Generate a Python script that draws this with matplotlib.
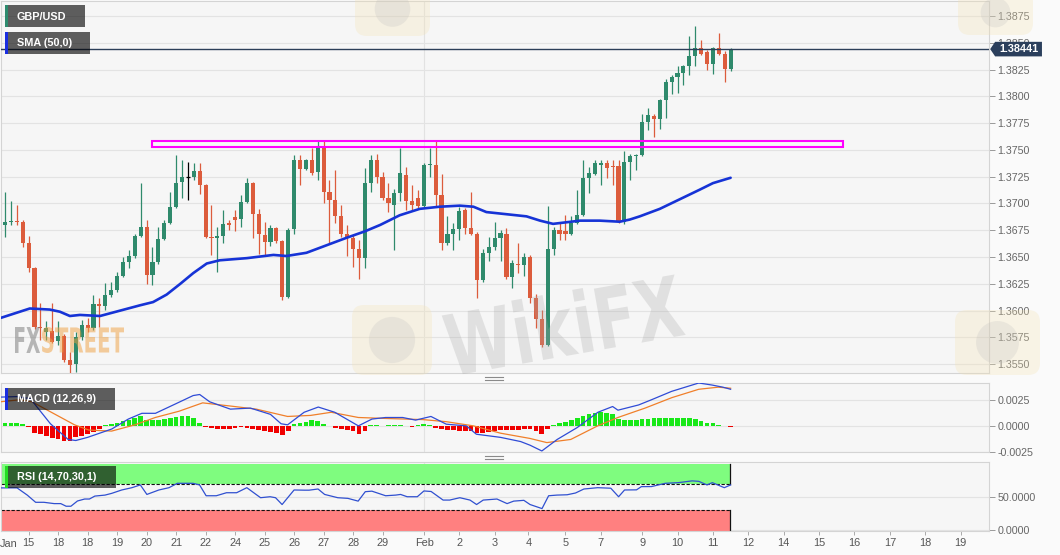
import matplotlib
matplotlib.use('Agg')
import matplotlib.pyplot as plt
import matplotlib.transforms as mtransforms
from matplotlib.patches import Rectangle, Polygon, PathPatch, FancyBboxPatch
from matplotlib.textpath import TextPath
from matplotlib.font_manager import FontProperties
import numpy as np

plt.rcParams['font.family'] = ['Liberation Sans', 'DejaVu Sans']

# ---------------- data ----------------
opens = [1.3649,1.3680,1.3683,1.3684,1.3683,1.3663,1.3640,1.3585,1.3580,1.3581,
         1.3572,1.3576,1.3554,1.3550,1.3575,1.3587,1.3584,1.3606,1.3604,1.3615,
         1.3619,1.3632,1.3645,1.3651,1.3670,1.3678,1.3633,1.3645,1.3667,1.3682,
         1.3697,1.3720,1.3725,1.3725,1.3730,1.3717,1.3669,1.3668,1.3670,1.3682,
         1.3687,1.3686,1.3701,1.3719,1.3690,1.3671,1.3664,1.3677,1.3665,1.3613,
         1.3676,1.3741,1.3732,1.3741,1.3729,1.3753,1.3711,1.3703,1.3688,1.3672,
         1.3668,1.3658,1.3649,1.3719,1.3741,1.3725,1.3705,1.3699,1.3710,1.3727,
         1.3702,1.3705,1.3698,1.3736,1.3736,1.3708,1.3663,1.3672,1.3676,1.3694,
         1.3677,1.3672,1.3629,1.3654,1.3659,1.3668,1.3672,1.3631,1.3644,1.3643,
         1.3650,1.3612,1.3592,1.3568,1.3658,1.3675,1.3674,1.3672,1.3682,1.3689,
         1.3724,1.3728,1.3736,1.3738,1.3735,1.3735,1.3683,1.3739,1.3744,1.3745,
         1.3776,1.3782,1.3779,1.3797,1.3813,1.3818,1.3822,1.3828,1.3838,1.3845,
         1.3841,1.3830,1.3845,1.3840,1.3826]
highs = [1.3711,1.3711,1.3702,1.3699,1.3685,1.3670,1.3641,1.3607,1.3590,1.3607,
         1.3590,1.3578,1.3561,1.3580,1.3591,1.3593,1.3615,1.3612,1.3626,1.3627,
         1.3636,1.3650,1.3657,1.3672,1.3719,1.3685,1.3659,1.3678,1.3685,1.3711,
         1.3745,1.3741,1.3739,1.3738,1.3738,1.3718,1.3699,1.3678,1.3694,1.3685,
         1.3694,1.3708,1.3724,1.3720,1.3695,1.3683,1.3680,1.3678,1.3666,1.3677,
         1.3745,1.3745,1.3742,1.3752,1.3758,1.3758,1.3722,1.3731,1.3699,1.3680,
         1.3671,1.3666,1.3733,1.3745,1.3746,1.3729,1.3719,1.3714,1.3752,1.3734,
         1.3717,1.3713,1.3738,1.3752,1.3758,1.3728,1.3688,1.3682,1.3697,1.3696,
         1.3711,1.3673,1.3658,1.3669,1.3683,1.3675,1.3677,1.3647,1.3663,1.3654,
         1.3652,1.3616,1.3601,1.3698,1.3678,1.3683,1.3689,1.3688,1.3713,1.3741,
         1.3734,1.3741,1.3741,1.3741,1.3741,1.3741,1.3749,1.3746,1.3746,1.3784,
         1.3789,1.3784,1.3798,1.3816,1.3820,1.3828,1.3829,1.3856,1.3866,1.3853,
         1.3843,1.3846,1.3859,1.3842,1.3845]
lows = [1.3619,1.3669,1.3680,1.3680,1.3659,1.3636,1.3583,1.3573,1.3573,1.3570,
        1.3568,1.3552,1.3542,1.3543,1.3573,1.3580,1.3582,1.3585,1.3601,1.3613,
        1.3617,1.3631,1.3640,1.3649,1.3669,1.3625,1.3624,1.3644,1.3666,1.3681,
        1.3696,1.3705,1.3703,1.3722,1.3709,1.3668,1.3652,1.3636,1.3663,1.3675,
        1.3674,1.3678,1.3700,1.3668,1.3653,1.3652,1.3660,1.3663,1.3610,1.3612,
        1.3672,1.3717,1.3731,1.3727,1.3722,1.3700,1.3663,1.3682,1.3669,1.3651,
        1.3641,1.3630,1.3640,1.3711,1.3719,1.3703,1.3692,1.3657,1.3702,1.3694,
        1.3694,1.3696,1.3697,1.3725,1.3697,1.3657,1.3661,1.3657,1.3666,1.3672,
        1.3671,1.3612,1.3627,1.3646,1.3657,1.3646,1.3630,1.3621,1.3635,1.3632,
        1.3607,1.3584,1.3566,1.3567,1.3652,1.3666,1.3666,1.3671,1.3681,1.3688,
        1.3710,1.3727,1.3717,1.3724,1.3717,1.3682,1.3681,1.3722,1.3731,1.3744,
        1.3769,1.3762,1.3770,1.3780,1.3802,1.3803,1.3811,1.3820,1.3828,1.3839,
        1.3825,1.3821,1.3839,1.3813,1.3824]
closes = [1.3680,1.3683,1.3684,1.3683,1.3663,1.3640,1.3585,1.3584,1.3584,1.3571,
          1.3576,1.3554,1.3549,1.3575,1.3587,1.3584,1.3606,1.3604,1.3615,1.3619,
          1.3632,1.3645,1.3651,1.3670,1.3678,1.3633,1.3645,1.3667,1.3682,1.3697,
          1.3719,1.3725,1.3725,1.3730,1.3717,1.3669,1.3668,1.3670,1.3681,1.3680,
          1.3685,1.3701,1.3719,1.3690,1.3672,1.3664,1.3677,1.3665,1.3613,1.3675,
          1.3741,1.3732,1.3741,1.3728,1.3753,1.3711,1.3703,1.3688,1.3672,1.3668,
          1.3658,1.3649,1.3719,1.3741,1.3725,1.3705,1.3700,1.3710,1.3728,1.3702,
          1.3699,1.3698,1.3736,1.3737,1.3708,1.3663,1.3672,1.3676,1.3693,1.3677,
          1.3672,1.3629,1.3654,1.3659,1.3668,1.3672,1.3631,1.3644,1.3643,1.3650,
          1.3612,1.3592,1.3568,1.3658,1.3675,1.3672,1.3672,1.3682,1.3689,1.3724,
          1.3728,1.3738,1.3738,1.3733,1.3734,1.3683,1.3739,1.3744,1.3745,1.3776,
          1.3783,1.3779,1.3797,1.3813,1.3818,1.3822,1.3828,1.3838,1.3845,1.3840,
          1.3830,1.3845,1.3840,1.3826,1.38441]

sma_idx = [0.15, 5.2, 8.6, 10.3, 12, 13.7, 17.1, 20.5, 23.9, 26.1, 28.4, 30.7, 32.9,
           35.2, 37.4, 42, 46.5, 48.7, 52.1, 55.5, 58.9, 62, 64.6, 67.9, 71.3, 74.7,
           78.1, 80.4, 82.6, 86, 89.4, 91.7, 93.9, 98.5, 101.8, 105.2, 106.9, 108.6,
           112, 115.4, 118.8, 121, 124]
sma_val = [1.3593, 1.3602, 1.3601, 1.3599, 1.3595, 1.3596, 1.3595, 1.3600, 1.3605,
           1.3608, 1.3615, 1.3625, 1.3635, 1.3644, 1.3647, 1.3649, 1.3652, 1.3651,
           1.3654, 1.3661, 1.3668, 1.3674, 1.3680, 1.3689, 1.3695, 1.3697, 1.3698,
           1.3697, 1.3692, 1.3690, 1.3688, 1.3684, 1.3681, 1.3684, 1.3684, 1.3683,
           1.3685, 1.3688, 1.3695, 1.3704, 1.3713, 1.3719, 1.3724]

macd_idx = [0.15, 3.0, 5.3, 8.7, 11.7, 13.0, 15.0, 19.1, 21.9, 24.2, 26.5, 29.9, 32.9, 34.0,
            35.7, 39.2, 42.6, 46.0, 47.8, 48.9, 51.7, 54.1, 56.9, 60.9, 63.2, 65.5,
            68.4, 70.6, 73.2, 75.8, 79.2, 80.9, 85.0, 88.4, 90.0, 92.0, 94.6, 98.0,
            101.5, 104.0, 104.9, 108.4, 110.6, 114.0, 118.6, 120.9, 122.7, 124.0]
macd_val = [0.00275, 0.0028, 0.0026, 0.0002, -0.0013, -0.0014, -0.0011, -0.0003, 0.00065,
            0.0012, 0.0012, 0.0021, 0.0029, 0.0030, 0.0023, 0.0016, 0.0017, 0.0011,
            0.0002, 0.0001, 0.0013, 0.0018, 0.0013, 0.0, 0.00065, 0.0008, 0.0008,
            0.00055, 0.0009, 0.00016, 0.0, -0.0008, -0.0011, -0.0015, -0.00185,
            -0.0024, -0.0013, -0.00016, 0.0013, 0.00185, 0.0015, 0.0020, 0.0025,
            0.0033, 0.0041, 0.0039, 0.0037, 0.0035]
signal_idx = [0.15, 3.55, 5.58, 12.78, 15.2, 19.07, 23.03, 26.47, 30.5, 34.5, 39.15,
              43.6, 48.9, 52.8, 56.3, 60.9, 66.0, 71.8, 75.8, 80.4, 85.0, 89.96,
              92.85, 96.9, 101.46, 104.89, 109.5, 114.04, 118.6, 121.9, 124.0]
signal_val = [0.0023, 0.0025, 0.0023, 0.0001, -0.0004, -0.0005, 0.0001, 0.0008, 0.0014,
              0.0022, 0.0019, 0.0016, 0.0009, 0.0010, 0.0013, 0.0008, 0.0007, 0.0006,
              0.0004, 0.0, -0.0007, -0.0012, -0.0016, -0.0013, 0.0, 0.0008, 0.0017,
              0.0027, 0.0035, 0.0037, 0.0036]
hist = [0.0003, 0.0003, 0.0003, 0.00025, 0.0002, -0.00015, -0.00065, -0.0008, -0.00097, -0.0012,
        -0.0013, -0.0014, -0.0014, -0.0011, -0.001, -0.00075, -0.00055, -0.0003, 0.0001, 0.00016,
        0.00023, 0.00049, 0.00055, 0.0008, 0.00097, 0.0006, 0.00055, 0.00055, 0.00065, 0.00075,
        0.00087, 0.00097, 0.00097, 0.0008, 0.00032, -0.0001, -0.0002, -0.0003, -0.0003, -0.0003,
        -0.0002, -0.0001, -0.0002, -0.0003, -0.0004, -0.0005, -0.00055, -0.00065, -0.00087, -0.0005,
        0.00016, 0.0003, 0.0004, 0.00055, 0.0005, 0.00016, 0.0, -0.0002, -0.0003, -0.0004,
        -0.0005, -0.00075, -0.0005, 0.00005, 0.0001, -0.00005, 0.00005, 0.0001, 0.0001, -0.00005,
        -0.0001, 0.00005, 0.0002, 0.0001, -0.0002, -0.0003, -0.0004, -0.0004, -0.0005, -0.0005,
        -0.0005, -0.00065, -0.00065, -0.0006, -0.0005, -0.0004, -0.0004, -0.0004, -0.0004, -0.0003,
        -0.0003, -0.0005, -0.0008, -0.0003, 0.0001, 0.00026, 0.0004, 0.00055, 0.0008, 0.00097,
        0.0011, 0.0012, 0.0013, 0.0012, 0.0011, 0.00065, 0.00055, 0.00055, 0.0006, 0.00065,
        0.0007, 0.0008, 0.0008, 0.0008, 0.0008, 0.0008, 0.00078, 0.00075, 0.00065, 0.0005,
        0.00032, 0.00023, 0.0001, -0.00005, -0.00008]

rsi_idx = [0.15, 3.04, 4.77, 6.19, 7.6, 9.33, 10.45, 11.36, 12.17, 13.28, 14.5, 15.31,
           16.23, 17.95, 19.07, 20.79, 22.51, 23.94, 25.05, 27.08, 28.8, 30.22, 32.86,
           33.98, 35.09, 36.82, 38.54, 40.26, 41.99, 44.32, 45.94, 46.86, 47.97, 50.0,
           51.73, 52.54, 54.06, 55.18, 57.41, 59.13, 60.86, 62.07, 63.19, 65.52, 67.24,
           68.05, 69.17, 70.89, 72.01, 73.23, 75.26, 76.37, 78.1, 79.82, 80.94, 82.06,
           84.39, 86.11, 87.23, 88.95, 90.0, 92.03, 93.15, 94.56, 96.29, 97.71, 99.13,
           101.46, 103.69, 105.01, 106.02, 108.05, 108.86, 110.59, 112.92, 115.15,
           117.48, 118.6, 120.0, 120.9, 122.93, 124.0]
rsi_val = [64, 64, 53, 42, 42, 40, 40, 36, 36, 44, 47, 47, 51.5, 53, 55.6, 60.8, 64.3,
           68.5, 54, 60.8, 64.3, 71, 71, 68.5, 52, 52, 56.6, 56.6, 64.3, 49, 50.5, 49,
           38.6, 60.8, 60.5, 60.5, 62.3, 54, 49, 48, 43.8, 58.2, 59, 52, 53, 54, 50.5,
           50.5, 59.3, 58.5, 45.4, 45.4, 49, 45.4, 38.6, 45.4, 47, 40, 43.8, 45, 38.6,
           32.4, 52, 53, 53.5, 56.2, 62.3, 64.3, 63.5, 50.5, 60.8, 61, 65.9, 66, 71, 72,
           74.7, 74, 68.5, 72, 64.3, 68.5]

zone_low, zone_high = 1.37525, 1.37586
zone_start, zone_end = 26.0, 143.0
last_price = 1.38441
rsi_upper, rsi_lower = 70, 30
band_end = 123.96
feb_pos = 72.1

price_ticks = [1.3550, 1.3575, 1.3600, 1.3625, 1.3650, 1.3675, 1.3700, 1.3725,
               1.3750, 1.3775, 1.3800, 1.3825, 1.3850, 1.3875]
macd_ticks = [-0.0025, 0.0, 0.0025]
rsi_ticks = [0.0, 50.0]
xtick_pos = [5, 10, 15, 20, 25, 30, 35, 40, 45, 50, 55, 60, 65, 72.1, 78, 84, 89.7,
             96, 102, 109, 115, 121, 127, 133, 139, 145, 151, 157, 163]
xtick_labels = ['15', '18', '18', '19', '20', '21', '22', '24', '25', '26', '27', '28',
                '29', 'Feb', '2', '3', '4', '5', '7', '9', '10', '11', '12', '14', '15',
                '16', '17', '18', '19']

# ---------------- figure ----------------
W, H = 1060, 555
fig = plt.figure(figsize=(W / 100, H / 100), dpi=100)
fig.patch.set_facecolor('#fafafa')

GREEN = '#2f8a6c'
RED = '#dc5c3c'
TICKC = '#666666'


def box(x0, y0, x1, y1):
    return fig.add_axes([x0 / W, 1 - y1 / H, (x1 - x0) / W, (y1 - y0) / H])


X0, X1 = 0.32, 167.8
ax = box(1, 1, 989, 373)
axm = box(1, 383, 989, 452)
axr = box(1, 462, 989, 531)

for a in (ax, axm, axr):
    a.set_facecolor('#f6f6f6')
    a.set_xlim(X0, X1)
    for s in a.spines.values():
        s.set_color('#d4d4d4')
        s.set_linewidth(0.8)
    a.yaxis.tick_right()
    a.tick_params(axis='y', length=4, width=0.7, color='#999999',
                  labelcolor=TICKC, labelsize=7.7, pad=2)
    a.set_axisbelow(True)
    a.grid(axis='y', color='#e3e3e3', lw=0.8)
    a.axvline(feb_pos, color='#e2e2e2', lw=0.8, zorder=0)

ax.set_xticks([])
axm.set_xticks([])

# ---- main panel ----
ax.set_ylim(1.35418, 1.38890)
ax.set_yticks(price_ticks)
ax.set_yticklabels(['%.4f' % v for v in price_ticks])

idx = np.arange(len(closes))
o = np.array(opens); c = np.array(closes); h = np.array(highs); l = np.array(lows)
cols = np.where(c > o, GREEN, np.where(c < o, RED, '#000000'))
ax.vlines(idx, l, h, colors=cols, lw=0.9, zorder=3)
flat = c == o
ax.bar(idx[~flat], (c - o)[~flat], bottom=o[~flat], width=0.7, color=cols[~flat],
       linewidth=0, zorder=4)
ax.hlines(c[flat], idx[flat] - 0.4, idx[flat] + 0.4, colors='#000000', lw=0.9, zorder=4)

ax.plot(sma_idx, sma_val, color='#1633d6', lw=1.9, zorder=5, solid_capstyle='round',
        solid_joinstyle='round')

ax.add_patch(Rectangle((zone_start, zone_low), zone_end - zone_start, zone_high - zone_low,
                       fill=False, ec='#ff00ff', lw=1.5, zorder=6))
ax.axhline(last_price, color='#2c3e58', lw=1.0, zorder=6)

# price tag
trY = ax.get_yaxis_transform()
dp = 0.00068
tag = Polygon([(1.0012, last_price), (1.0062, last_price + dp), (1.0536, last_price + dp),
               (1.0536, last_price - dp), (1.0062, last_price - dp)], closed=True,
              transform=trY, clip_on=False, facecolor='#2b3f5c', edgecolor='none', zorder=20)
ax.add_patch(tag)
ax.text(1.0300, last_price, '%.5f' % last_price, transform=trY, color='white',
        fontsize=7.8, fontweight='bold', ha='center', va='center', zorder=21, clip_on=False)

# ---- MACD ----
axm.set_ylim(-0.0025, 0.0041)
axm.set_yticks(macd_ticks)
axm.set_yticklabels(['%.4f' % v for v in macd_ticks])
hv = np.array(hist)
axm.bar(idx, hv, width=0.8, color=np.where(hv >= 0, '#18e818', '#f00000'), linewidth=0, zorder=2)
axm.plot(signal_idx, signal_val, color='#f07f2a', lw=0.9, zorder=3)
axm.plot(macd_idx, macd_val, color='#2f4bd6', lw=0.9, zorder=4)

# ---- RSI ----
axr.set_ylim(-1.8, 103.5)
axr.set_yticks(rsi_ticks)
axr.set_yticklabels(['%.4f' % v for v in rsi_ticks])
axr.add_patch(Rectangle((X0, rsi_upper), band_end - X0, 100 - rsi_upper,
                        facecolor='#7ffc7f', edgecolor='none', zorder=1))
axr.add_patch(Rectangle((X0, -1.8), band_end - X0, rsi_lower + 1.8,
                        facecolor='#ff8080', edgecolor='none', zorder=1))
axr.plot([X0, band_end], [rsi_upper, rsi_upper], color='#111111', lw=0.8, ls=(0, (3, 1.5)), zorder=2)
axr.plot([X0, band_end], [rsi_lower, rsi_lower], color='#111111', lw=0.8, ls=(0, (3, 1.5)), zorder=2)
axr.plot([band_end, band_end], [rsi_upper, 100], color='#111111', lw=0.9, zorder=2)
axr.plot([band_end, band_end], [-1.8, rsi_lower], color='#111111', lw=0.9, zorder=2)
axr.plot(rsi_idx, rsi_val, color='#3050d0', lw=0.9, zorder=3)

axr.set_xticks(xtick_pos)
axr.set_xticklabels(xtick_labels)
axr.tick_params(axis='x', length=3, width=0.7, color='#aaaaaa', labelcolor='#555555',
                labelsize=7.9, pad=2)
axr.text(1.6, -0.115, 'Jan', transform=axr.get_xaxis_transform(), ha='center', va='top',
         fontsize=7.9, color='#555555')

# ---------------- overlay (pixel coords) ----------------
ov = fig.add_axes([0, 0, 1, 1], zorder=10)
ov.set_xlim(0, W)
ov.set_ylim(H, 0)
ov.axis('off')
ov.patch.set_alpha(0)


def path_text(s, x0, y0, x1, y1, color, alpha, rot=0, center=None, weight='bold'):
    tp = TextPath((0, 0), s, size=100, prop=FontProperties(family='DejaVu Sans', weight=weight))
    bb = tp.get_extents()
    tr = mtransforms.Affine2D().translate(-bb.x0, -bb.y0).scale(
        (x1 - x0) / bb.width, -(y1 - y0) / bb.height).translate(x0, y1)
    if rot:
        tr = tr.rotate_deg_around(center[0], center[1], rot)
    ov.add_patch(PathPatch(tr.transform_path(tp), facecolor=color, edgecolor='none', alpha=alpha))


# watermarks
for (bx, by, bw, bh) in [(352, 305, 80, 70), (955, 310, 85, 65), (958, -10, 75, 45), (355, -18, 75, 54)]:
    ov.add_patch(FancyBboxPatch((bx, by), bw, bh, boxstyle='round,pad=0,rounding_size=12',
                                facecolor='#f4e3b5', edgecolor='none', alpha=0.3))
    ov.add_patch(plt.Circle((bx + bw / 2, by + bh / 2), min(bw, bh) * 0.33,
                            facecolor='#b9b9b9', edgecolor='none', alpha=0.22))
path_text('WikiFX', 445, 292, 682, 356, '#a9a9a9', 0.28, rot=-10, center=(563, 324))
path_text('FX', 15, 327, 40, 353, '#808080', 0.55)
path_text('STREET', 42, 327, 124, 353, '#f0a040', 0.5)

# divider handles
for yy in (377.3, 379.8, 456.3, 458.8):
    ov.plot([485, 503], [yy, yy], color='#8a8a8a', lw=0.8)


def label_box(x, y, w, hgt, text, bar):
    ov.add_patch(Rectangle((x, y), w, hgt, facecolor='#000000', alpha=0.62, lw=0))
    ov.add_patch(Rectangle((x, y), 2.6, hgt, facecolor=bar, lw=0))
    ov.text(x + 11.7, y + hgt / 2 + 0.5, text, color='white', fontsize=7.8,
            fontweight='bold', ha='left', va='center')


label_box(5, 5, 80, 22, 'GBP/USD', '#2e8b6e')
label_box(5, 32, 85, 22, 'SMA (50,0)', '#1a2ee0')
label_box(5, 387.6, 110, 22, 'MACD (12,26,9)', '#1a2ee0')
label_box(5, 466, 111, 22, 'RSI (14,70,30,1)', '#22dd22')

fig.savefig('out.png', dpi=100, facecolor=fig.get_facecolor())
